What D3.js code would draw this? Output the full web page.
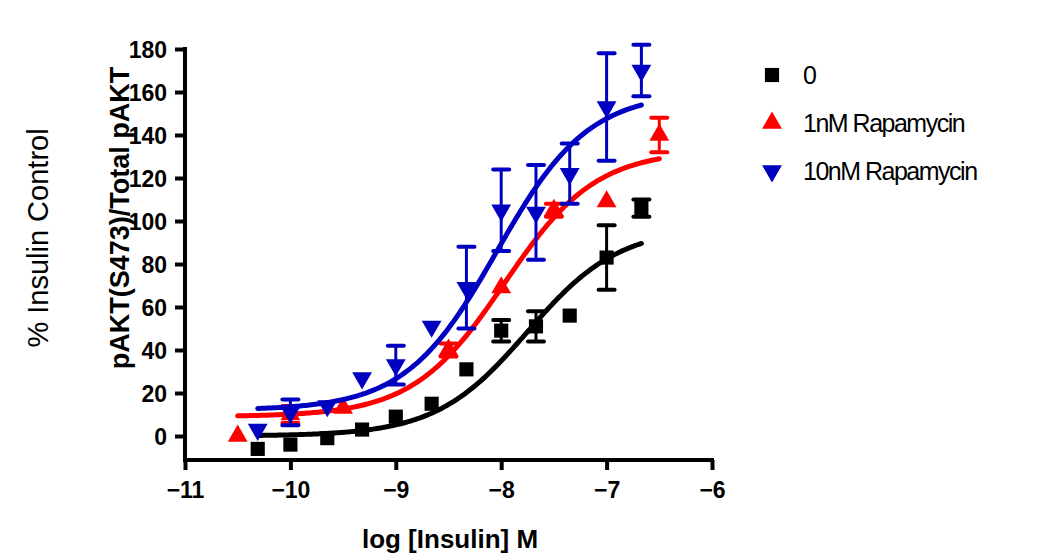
<!DOCTYPE html>
<html><head><meta charset="utf-8">
<script src="https://cdn.jsdelivr.net/npm/d3@7"></script>
<style>body{margin:0;background:#fff}text{font-family:"Liberation Sans",Arial,sans-serif}</style>
</head><body>
<script>
var names = ["0", "1nM Rapamycin", " 10nM Rapamycin"];
var colors = ["#000000", "#ff0000", "#0000c0"];
var blackX = [-10.31, -10, -9.65, -9.32, -9, -8.66, -8.33, -8, -7.67, -7.35, -7, -6.67];
var blackY = [-6, -4, -1, 3, 9, 15, 31, 49, 51, 56, 83, 106];
var blackErr = [0, 0, 0, 0, 0, 0, 0, 5, 7, 0, 15, 4];
var redX = [-10.5, -10, -9.5, -8.5, -8, -7.5, -7, -6.5];
var redY = [0, 10, 13, 40, 69, 105, 109, 140];
var redErr = [0, 4, 0, 3, 0, 3, 0, 8];
var blueX = [-10.31, -10, -9.65, -9.32, -9, -8.66, -8.33, -8, -7.67, -7.35, -7, -6.67];
var blueY = [3, 11, 14, 27, 33, 51, 69, 105, 104, 122, 153, 170];
var blueErr = [0, 6, 0, 0, 9, 0, 19, 19, 22, 14, 25, 12];
// fitted curve params: bottom, top, logEC50, x-start, x-end
var fitBottom = [0, 9, 12];
var fitTop = [97, 133, 160];
var fitEC50 = [-7.75, -7.97, -8.04];
var fitStart = [-10.31, -10.5, -10.31];
var fitEnd = [-6.67, -6.5, -6.67];
var xTicks = [-11, -10, -9, -8, -7, -6];
var yTicks = [0, 20, 40, 60, 80, 100, 120, 140, 160, 180];

var series = [[blackX, blackY, blackErr], [redX, redY, redErr], [blueX, blueY, blueErr]];

var svg = d3.select("body").append("svg").attr("width", 1043).attr("height", 555);
var x = d3.scaleLinear().domain([-11, -6]).range([185, 712]);
var y = d3.scaleLinear().domain([0, 180]).range([436, 49]);

svg.append("g").attr("transform", "translate(0,460)")
  .call(d3.axisBottom(x).tickValues(xTicks).tickFormat(d3.format("d")).tickSize(10).tickSizeOuter(0).tickPadding(12))
  .call(function(g) {
    g.select(".domain").attr("stroke-width", 4).attr("d", "M183,0H714");
    g.selectAll("line").attr("stroke-width", 4);
    g.selectAll("text").attr("font-size", 23).attr("font-weight", "bold").attr("fill", "#000");
  });
svg.append("g").attr("transform", "translate(185,0)")
  .call(d3.axisLeft(y).tickValues(yTicks).tickSize(10).tickSizeOuter(0).tickPadding(8))
  .call(function(g) {
    g.select(".domain").attr("stroke-width", 4).attr("d", "M0,47V462");
    g.selectAll("line").attr("stroke-width", 4);
    g.selectAll("text").attr("font-size", 23).attr("font-weight", "bold").attr("fill", "#000").attr("dy", "0.36em");
  });

svg.append("text").attr("x", 450).attr("y", 548).attr("text-anchor", "middle")
  .attr("font-size", 26).attr("font-weight", "bold").text("log [Insulin] M");
svg.append("text").attr("transform", "translate(129,218) rotate(-90)").attr("text-anchor", "middle")
  .attr("font-size", 27).attr("font-weight", "bold").text("pAKT(S473)/Total pAKT");
svg.append("text").attr("transform", "translate(48,238) rotate(-90)").attr("text-anchor", "middle")
  .attr("font-size", 29).text("% Insulin Control");

var symbols = [d3.symbolSquare, d3.symbolTriangle, d3.symbolTriangle];
var rot = [0, 0, 180];

series.forEach(function(s, i) {
  var c = colors[i];
  var pts = d3.range(0, 201).map(function(k) {
    var lx = fitStart[i] + (fitEnd[i] - fitStart[i]) * k / 200;
    return [lx, fitBottom[i] + (fitTop[i] - fitBottom[i]) / (1 + Math.pow(10, fitEC50[i] - lx))];
  });
  svg.append("path").attr("d", d3.line().x(function(d) { return x(d[0]); }).y(function(d) { return y(d[1]); })(pts))
    .attr("fill", "none").attr("stroke", c).attr("stroke-width", 5).attr("stroke-linecap", "round");
  var g = svg.append("g");
  s[0].forEach(function(xv, j) {
    var e = s[2][j], px = x(xv);
    if (e > 0) {
      g.append("line").attr("x1", px).attr("x2", px).attr("y1", y(s[1][j] - e)).attr("y2", y(s[1][j] + e)).attr("stroke", c).attr("stroke-width", 3);
      [-e, e].forEach(function(d) {
        g.append("line").attr("x1", px - 8).attr("x2", px + 8).attr("y1", y(s[1][j] + d)).attr("y2", y(s[1][j] + d))
          .attr("stroke", c).attr("stroke-width", 4).attr("stroke-linecap", "round");
      });
    }
    g.append("path").attr("d", d3.symbol().type(symbols[i]).size(i === 0 ? 200 : 170)())
      .attr("transform", "translate(" + px + "," + y(s[1][j]) + ") rotate(" + rot[i] + ")").attr("fill", c);
  });
  svg.append("path").attr("d", d3.symbol().type(symbols[i]).size(i === 0 ? 200 : 170)())
    .attr("transform", "translate(772," + (75 + i * 48) + ") rotate(" + rot[i] + ")").attr("fill", c);
  svg.append("text").attr("x", 803).attr("y", 84 + i * 48).attr("font-size", 25).attr("letter-spacing", -1.5).text(names[i]);
});
</script>
</body></html>
